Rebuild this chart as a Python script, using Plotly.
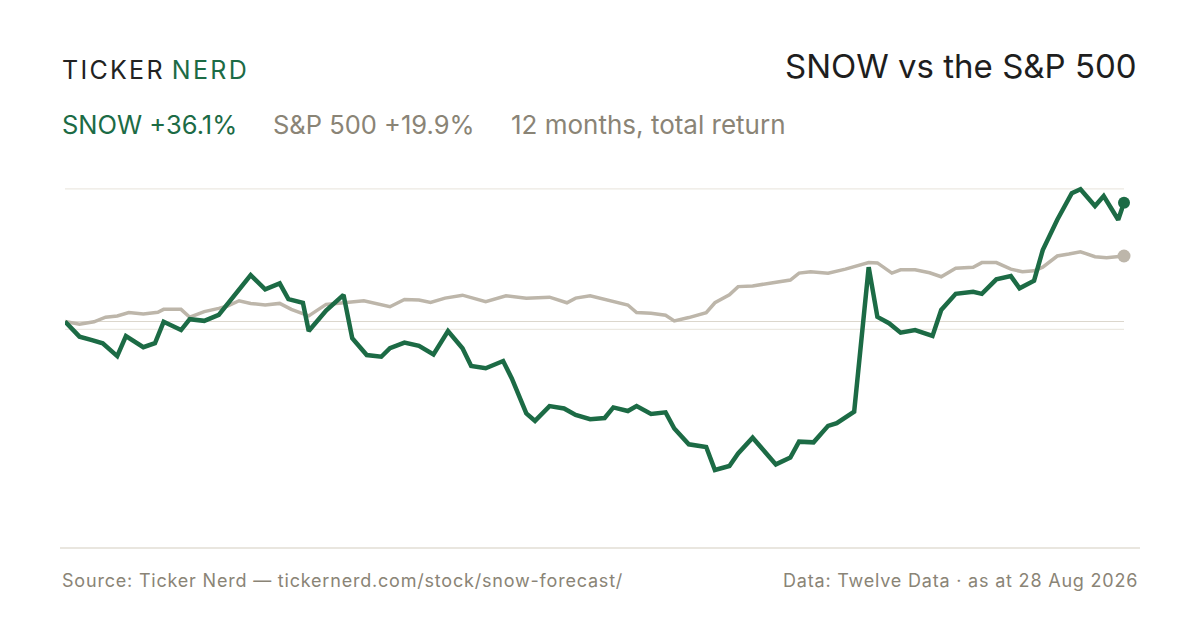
import pandas as pd
import plotly.graph_objects as go

# ---- data ----
START = "2025-08-28"
snow_days = [0, 5, 9, 13, 18, 21, 27, 31, 34, 40, 43, 48, 53, 57, 64, 69, 74, 77, 82, 84,
             90, 96, 99, 104, 109, 112, 117, 122, 127, 132, 137, 140, 145, 151, 154, 159, 162,
             167, 172, 176, 181, 186, 189, 194, 197, 202, 207, 210, 215, 221, 224, 229, 232,
             237, 242, 245, 250, 253, 258, 263, 266, 272, 277, 280, 284, 288, 293, 299, 302,
             307, 313, 316, 321, 326, 329, 334, 337, 342, 347, 350, 355, 358, 363, 365]
snow_ret = [0.0, -4.6, -5.6, -6.6, -10.5, -4.4, -7.8, -6.6, -0.1, -2.6, 0.7, 0.2, 2.0, 6.5,
            14.1, 9.8, 11.6, 6.8, 5.7, -2.9, 3.3, 8.1, -5.1, -10.2, -10.7, -8.1, -6.4, -7.4,
            -10.0, -2.9, -8.1, -13.5, -14.2, -12.0, -17.3, -27.9, -30.2, -25.7, -26.4, -28.4,
            -29.7, -29.3, -26.1, -27.2, -25.7, -28.1, -27.6, -32.5, -37.3, -38.1, -45.1, -43.9,
            -40.1, -35.3, -40.1, -43.4, -41.3, -36.5, -36.7, -31.7, -30.9, -27.4, 16.5, 1.4,
            -0.5, -3.4, -2.6, -4.4, 3.5, 8.4, 9.0, 8.4, 12.8, 13.8, 10.1, 12.4, 21.7, 30.9,
            39.0, 40.2, 35.1, 38.1, 30.9, 36.1]

spx_days = [0, 5, 10, 14, 18, 22, 27, 32, 34, 40, 43, 48, 53, 56, 60, 64, 69, 74, 78, 84,
            90, 96, 103, 112, 117, 122, 126, 131, 137, 145, 152, 159, 167, 173, 176, 181, 186,
            190, 194, 197, 202, 207, 210, 215, 221, 224, 229, 232, 237, 244, 250, 253, 257,
            263, 269, 277, 280, 285, 288, 293, 298, 302, 307, 313, 316, 321, 326, 330, 334,
            337, 342, 346, 350, 355, 359, 365]
spx_ret = [0.0, -0.8, -0.1, 1.3, 1.7, 2.7, 2.3, 2.8, 3.7, 3.7, 1.3, 3.0, 4.0, 4.7, 6.3, 5.5,
           5.0, 5.5, 3.7, 1.7, 5.2, 5.6, 6.3, 4.5, 6.7, 6.5, 5.8, 7.1, 8.0, 6.0, 7.8, 7.1, 7.4,
           5.7, 7.1, 7.8, 6.8, 5.8, 5.0, 2.7, 2.5, 1.9, 0.2, 1.2, 2.7, 5.7, 8.1, 10.6, 10.8,
           11.8, 12.6, 14.7, 15.1, 14.7, 15.9, 17.9, 17.8, 14.7, 15.7, 15.7, 14.8, 13.6, 16.2,
           16.5, 17.9, 17.9, 15.9, 15.1, 15.4, 16.5, 19.9, 20.5, 21.2, 19.7, 19.4, 19.9]

grid_values = [40.3, -2.4]
zero_value = 0.0

title_text = "SNOW vs the S&P 500"
snow_label = "SNOW +36.1%"
spx_label = "S&P 500 +19.9%"
period_label = "12 months, total return"
source_text = "Source: Ticker Nerd — tickernerd.com/stock/snow-forecast/"
data_text = "Data: Twelve Data · as at 28 Aug 2026"

# ---- styling ----
GREEN = "#1c6b45"
GREY_LINE = "#bdb6aa"
TEXT_GREY = "#8a8476"
GRID = "#ece9e2"
ZERO = "#dcd7cd"
FONT = "Inter"

start = pd.Timestamp(START)
snow_x = start + pd.to_timedelta(snow_days, unit="D")
spx_x = start + pd.to_timedelta(spx_days, unit="D")

W, H = 1200, 630
OFF = 8  # page body margin offset
# plot area in page pixels: x 65..1124, y 150..548
ML, MR = 65 - OFF, W - 1124 + OFF
MT, MB = 150 - OFF, H - 548 + OFF
PW, PH = 1124 - 65, 548 - 150


def px(x):
    return (x - 65) / PW


def py(y):
    return (548 - y) / PH


def spaced(txt, s):
    return "<span style='letter-spacing:%spx'>%s</span>" % (s, txt)


fig = go.Figure()
fig.add_trace(go.Scatter(x=spx_x, y=spx_ret, mode="lines", cliponaxis=False,
                         line=dict(color=GREY_LINE, width=3.5), hoverinfo="skip"))
fig.add_trace(go.Scatter(x=snow_x, y=snow_ret, mode="lines", cliponaxis=False,
                         line=dict(color=GREEN, width=4.5), hoverinfo="skip"))
fig.add_trace(go.Scatter(x=[spx_x[-1]], y=[spx_ret[-1]], mode="markers", cliponaxis=False,
                         marker=dict(color=GREY_LINE, size=13), hoverinfo="skip"))
fig.add_trace(go.Scatter(x=[snow_x[-1]], y=[snow_ret[-1]], mode="markers", cliponaxis=False,
                         marker=dict(color=GREEN, size=12), hoverinfo="skip"))

shapes = []
for g in grid_values:
    shapes.append(dict(type="line", xref="paper", yref="y", x0=0, x1=1, y0=g, y1=g,
                       line=dict(color=GRID, width=1.2), layer="below"))
shapes.append(dict(type="line", xref="paper", yref="y", x0=0, x1=1, y0=zero_value, y1=zero_value,
                   line=dict(color=ZERO, width=1.2), layer="below"))
shapes.append(dict(type="line", xref="paper", yref="paper", x0=px(60), x1=px(1140), y0=0, y1=0,
                   line=dict(color="#e2ded4", width=1.5), layer="below"))

ann = []
ann.append(dict(text=spaced("TICKER", 2.3) + " <span style='color:%s;letter-spacing:2.3px'>NERD</span>" % GREEN,
                x=px(60), y=py(70), xanchor="left", yanchor="middle",
                font=dict(family=FONT, size=25, color="#222222")))
ann.append(dict(text=title_text, x=px(1139), y=py(66), xanchor="right", yanchor="middle",
                font=dict(family=FONT, size=33, color="#1e1e1e")))
ann.append(dict(text=snow_label, x=px(60), y=py(124), xanchor="left", yanchor="middle",
                font=dict(family=FONT, size=25.5, color=GREEN)))
ann.append(dict(text=spx_label, x=px(271), y=py(124), xanchor="left", yanchor="middle",
                font=dict(family=FONT, size=25.5, color=TEXT_GREY)))
ann.append(dict(text=period_label, x=px(509), y=py(124), xanchor="left", yanchor="middle",
                font=dict(family=FONT, size=26, color=TEXT_GREY)))
ann.append(dict(text=spaced(source_text, 0.8), x=px(60), y=py(580), xanchor="left", yanchor="middle",
                font=dict(family=FONT, size=18, color=TEXT_GREY)))
ann.append(dict(text=spaced(data_text, 0.8), x=px(1140), y=py(580), xanchor="right", yanchor="middle",
                font=dict(family=FONT, size=18, color=TEXT_GREY)))
for a in ann:
    a.update(xref="paper", yref="paper", showarrow=False)

fig.update_layout(
    width=W, height=H,
    margin=dict(l=ML, r=MR, t=MT, b=MB, pad=0),
    paper_bgcolor="white", plot_bgcolor="white",
    showlegend=False,
    shapes=shapes, annotations=ann,
    xaxis=dict(range=[snow_x[0], snow_x[-1]], visible=False, showgrid=False, zeroline=False),
    yaxis=dict(range=[-68.8, 52.1], visible=False, showgrid=False, zeroline=False),
)

fig.write_html("out.html", config=dict(displayModeBar=False))
